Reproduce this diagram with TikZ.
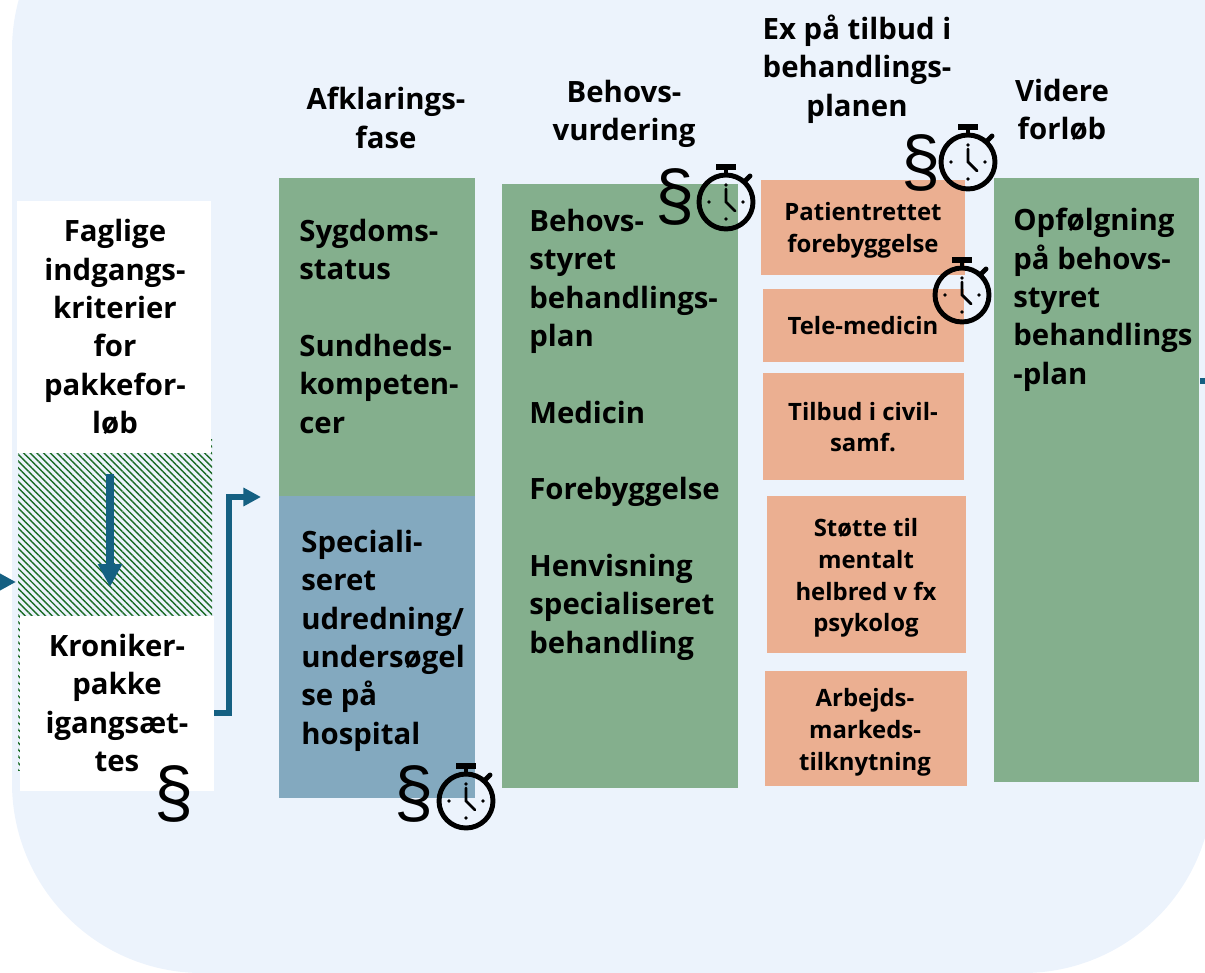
\documentclass[tikz,border=0pt]{standalone}
\usepackage{fontspec}
\setmainfont{Open Sans}
\newfontfamily\parafont{Liberation Sans}
\usetikzlibrary{arrows.meta,patterns.meta}
\definecolor{bluebg}{HTML}{ECF3FC}
\definecolor{green}{HTML}{84AF8D}
\definecolor{steel}{HTML}{83A9BF}
\definecolor{salmon}{HTML}{EBAF91}
\definecolor{flow}{HTML}{156082}
\definecolor{hatch}{HTML}{1A6B25}

\tikzset{
    box/.style={anchor=north west, inner sep=0pt, outer sep=0pt},
    txt/.style={font=\bfseries\fontsize{16.7}{21.8}\selectfont, text=black, inner sep=0pt},
    lefttxt/.style={txt, anchor=north west, align=left},
    midtxt/.style={txt, align=center},
    smalltxt/.style={midtxt, font=\bfseries\fontsize{13.6}{18.1}\selectfont},
    para/.style={font=\parafont\fontsize{40}{40}\selectfont, inner sep=0pt},
    flowline/.style={draw=flow, line width=3.6pt, -{Triangle[length=10pt,width=10pt]}},
    pics/stopwatch/.style={code={
        \draw[line width=2.8pt] (0,0) circle (27);
        \draw[line width=3.2pt] (-10,-35) -- (10,-35);
        \draw[line width=2.8pt] (0,-35) -- (0,-27);
        \draw[line width=2.8pt, line cap=round] (19,-21) -- (24,-26);
        \draw[line width=1.6pt, line cap=round] (0,-13) -- (0,0) -- (9,9);
        \foreach \a in {0,90,180,270}
            \fill (\a:17) circle (1.8);
    }}
}

\begin{document}
\begin{tikzpicture}[x=0.2mm, y=-0.2mm]
    \clip (0,0) rectangle (1205,973);

    % Background
    \fill[bluebg, rounded corners=190*0.2mm] (12,-140) rectangle (1213,973);

    % Hatched strip behind the white boxes
    \path[pattern={Lines[angle=-45,distance=2.7pt,line width=0.8pt]}, pattern color=hatch] (18,440) rectangle (212,770);
    \node[box, fill=white, minimum width=194*0.2mm, minimum height=252*0.2mm] (entry) at (17,201) {};
    \node[box, fill=white, minimum width=194*0.2mm, minimum height=175*0.2mm] (start) at (20,616) {};

    % Columns
    \node[box, fill=green, minimum width=196*0.2mm, minimum height=318*0.2mm] (status) at (279,178) {};
    \node[box, fill=steel, minimum width=196*0.2mm, minimum height=302*0.2mm] (hospital) at (279,496) {};
    \node[box, fill=green, minimum width=236*0.2mm, minimum height=604*0.2mm] (needs) at (502,184) {};
    \node[box, fill=green, minimum width=205*0.2mm, minimum height=604*0.2mm] (follow) at (994,178) {};

    % Offers
    \node[box, fill=salmon, minimum width=204*0.2mm, minimum height=95*0.2mm] (patient) at (761,180) {};
    \node[box, fill=salmon, minimum width=201*0.2mm, minimum height=73*0.2mm] (tele) at (763,289) {};
    \node[box, fill=salmon, minimum width=201*0.2mm, minimum height=107*0.2mm] (civil) at (763,373) {};
    \node[box, fill=salmon, minimum width=199*0.2mm, minimum height=157*0.2mm] (mental) at (767,496) {};
    \node[box, fill=salmon, minimum width=202*0.2mm, minimum height=115*0.2mm] (work) at (765,671) {};

    % Headings
    \node[midtxt] (h1) at (386,118) {Afklarings-\\fase};
    \node[midtxt] (h2) at (624,114) {Behovs-\\vurdering};
    \node[midtxt] (h3) at (857,69) {Ex på tilbud i\\behandlings-\\planen};
    \node[midtxt] (h4) at (1062,110) {Videre\\forløb};

    % Texts
    \node[midtxt] (t1) at (115,327) {Faglige\\indgangs-\\kriterier\\for\\pakkefor-\\løb};
    \node[midtxt] (t2) at (117,703) {Kroniker-\\pakke\\igangsæt-\\tes};
    \node[lefttxt] (t3) at (299,219) {Sygdoms-\\status\\[21.8pt]Sundheds-\\kompeten-\\cer};
    \node[lefttxt] (t4) at (301,530) {Speciali-\\seret\\udredning/\\undersøgel\\se på\\hospital};
    \node[lefttxt] (t5) at (529,209) {Behovs-\\styret\\behandlings-\\plan\\[21.8pt]Medicin\\[21.8pt]Forebyggelse\\[21.8pt]Henvisning\\specialiseret\\behandling};
    \node[lefttxt] (t6) at (1013,208) {Opfølgning\\på behovs-\\styret\\behandlings\\-plan};

    \node[smalltxt] (o1) at (863,230) {Patientrettet\\forebyggelse};
    \node[smalltxt] (o2) at (863,326) {Tele-medicin};
    \node[smalltxt] (o3) at (863,427) {Tilbud i civil-\\samf.};
    \node[smalltxt] (o4) at (866,578) {Støtte til\\mentalt\\helbred v fx\\psykolog};
    \node[smalltxt] (o5) at (865,732) {Arbejds-\\markeds-\\tilknytning};

    % Paragraph signs and stopwatches
    \node[para] (p1) at (174,794) {§};
    \node[para] (p2) at (414,794) {§};
    \node[para] (p3) at (675,197) {§};
    \node[para] (p4) at (921,163) {§};
    \pic at (466,801) {stopwatch};
    \pic at (726,202) {stopwatch};
    \pic at (968,162) {stopwatch};
    \pic at (962,295) {stopwatch};

    % Arrows
    \coordinate (downtop) at (110,474);
    \coordinate (downend) at (110,587);
    \coordinate (bendin) at (214,713);
    \coordinate (bendout) at (261,497);
    \coordinate (infrom) at (-10,582);
    \coordinate (into) at (16,582);
    \coordinate (outfrom) at (1200,381);
    \coordinate (outto) at (1210,381);
    \draw[flowline, line width=4.2pt, -{Triangle[length=13pt,width=13pt]}] (downtop) -- (downend);
    \draw[flowline] (bendin) -- (229,713) -- (229,497) -- (bendout);
    \draw[flowline, -{Triangle[length=13pt,width=13pt]}] (infrom) -- (into);
    \draw[draw=flow, line width=3.2pt] (outfrom) -- (outto);
\end{tikzpicture}
\end{document}
